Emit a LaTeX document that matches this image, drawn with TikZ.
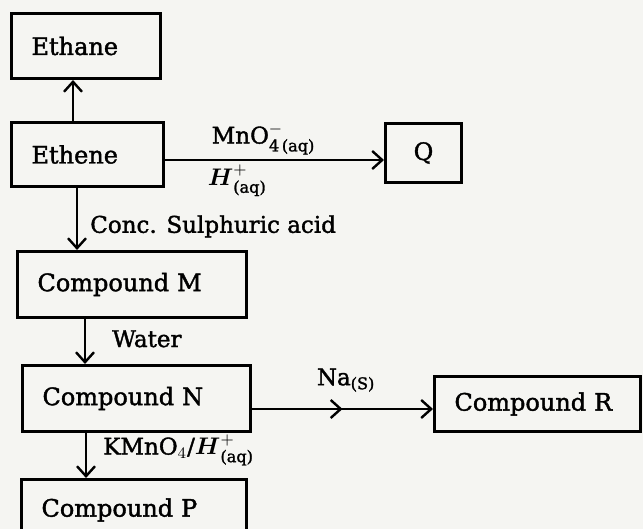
\documentclass[tikz,border=0pt]{standalone}
\usepackage{amsmath}
\usepackage{fontspec}
\setmainfont[BoldFont={DejaVu Serif},BoldFeatures={FakeBold=1.6}]{DejaVu Serif}
\usetikzlibrary{arrows.meta,positioning,decorations.markings}
\definecolor{paper}{rgb}{0.96,0.96,0.95}

\begin{document}
\begin{tikzpicture}[font=\fontsize{12}{14}\bfseries,
  >={Straight Barb[length=5pt,width=9pt,line width=1.2pt]},
  box/.style={draw,line width=1.5pt,minimum height=32pt,inner xsep=10pt,align=left},
  lab/.style={font=\fontsize{11.5}{13}\bfseries,inner sep=2pt},
  arr/.style={->,line width=1.3pt}]
\useasboundingbox[fill=paper] (0,0) rectangle (321.5pt,-264.5pt);
% boxes
\node[box,text width=54.5pt,minimum height=32.5pt,anchor=north west] (ethane) at (5pt,-6pt) {Ethane};
\node[box,text width=56pt,below=20.5pt of ethane.south west,anchor=north west] (ethene) {Ethene};
\node[box,text width=18pt,align=center,minimum height=29.5pt,right=109.5pt of ethene.north east,anchor=north west,yshift=-0.5pt] (q) {Q};
\node[box,text width=94.5pt,minimum height=33pt,below=31pt of ethene.south west,anchor=north west,xshift=3pt] (m) {Compound M};
\node[box,text width=94pt,minimum height=33pt,below=22.5pt of m.south west,anchor=north west,xshift=2.5pt] (n) {Compound N};
\node[box,text width=83pt,minimum height=27.5pt,right=90.5pt of n.north east,anchor=north west,yshift=-5.5pt] (r) {Compound R};
\node[box,text width=92.5pt,minimum height=30.5pt,below=22.5pt of n.south west,anchor=north west,xshift=-0.5pt] (p) {Compound P};
% reactions
\draw[arr] ([xshift=31.5pt]ethene.north west) -- ([xshift=31.5pt]ethene.north west |- ethane.south);
\draw[arr] ([yshift=-19.5pt]ethene.north east) -- ([yshift=-19.5pt]ethene.north east -| q.west)
  node[lab,above,pos=0.45] {MnO$^{-}_{\text{4\,(aq)}}$}
  node[lab,below,pos=0.33] {$\boldsymbol{H}^{+}_{\text{(aq)}}$};
\draw[arr] ([xshift=33.5pt]ethene.south west) -- ([xshift=33.5pt]ethene.south west |- m.north)
  node[lab,right,pos=0.62,xshift=4pt] {Conc. Sulphuric acid};
\draw[arr] ([xshift=34.5pt]m.south west) -- ([xshift=34.5pt]m.south west |- n.north)
  node[lab,right,pos=0.44,xshift=11pt] {Water};
\draw[arr,postaction={decorate},decoration={markings,mark=at position 0.5 with {\arrow{>}}}]
  ([yshift=-22.5pt]n.north east) -- ([yshift=-22.5pt]n.north east -| r.west)
  node[lab,above,pos=0.52,yshift=6pt] {Na\textsubscript{(S)}};
\draw[arr] ([xshift=32.5pt]n.south west) -- ([xshift=32.5pt]n.south west |- p.north)
  node[lab,right,pos=0.38,xshift=6pt] {KMnO$_4$/$\boldsymbol{H}^{+}_{\text{(aq)}}$};
\end{tikzpicture}
\end{document}
